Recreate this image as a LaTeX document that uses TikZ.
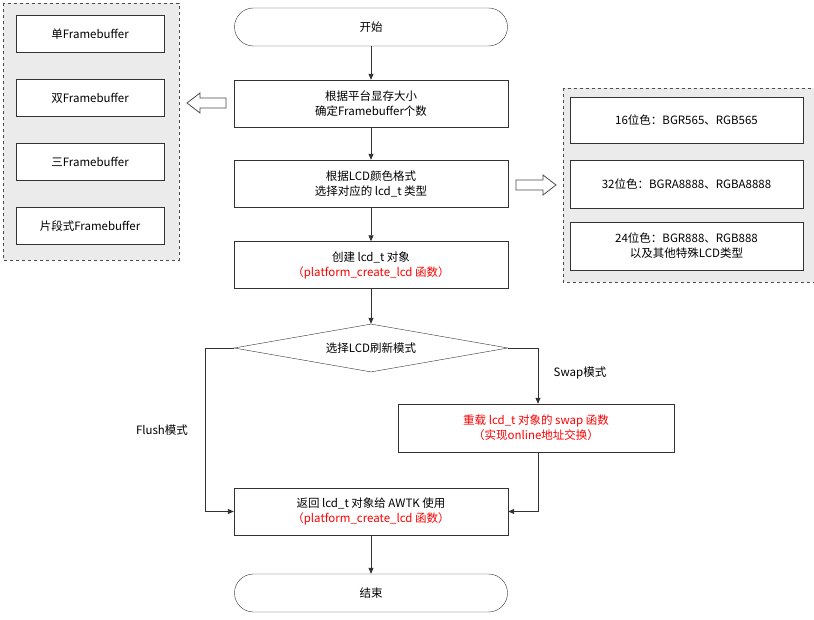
\documentclass[tikz,border=0pt]{standalone}
\usepackage{fontspec}
\setmainfont{Noto Sans CJK SC}
\usetikzlibrary{shapes.geometric,arrows.meta}
\definecolor{grp}{HTML}{EBEBEB}
\definecolor{red1}{HTML}{FF0000}
\begin{document}
\begin{tikzpicture}[x=1pt,y=-1pt,font=\fontsize{11.5}{15}\selectfont,
 box/.style={draw=black!80,fill=white,minimum width=274pt,minimum height=47pt,align=center,inner sep=1pt},
 term/.style={draw=black!80,fill=white,rounded corners=19pt,minimum width=273pt,minimum height=38pt},
 sbox/.style={draw=black!80,fill=white,minimum width=148pt,minimum height=37pt},
 rbox/.style={draw=black!80,fill=white,minimum width=233pt,minimum height=46pt,align=center},
 grpst/.style={draw=black!70,dashed,fill=grp,line width=0.8pt},
 ar/.style={-{Triangle[length=6pt,width=5pt]},black!80,line width=0.8pt},
 hol/.style={draw=black!70,fill=white,line width=0.8pt}]
\useasboundingbox (0,0) rectangle (814,620);
\filldraw[grpst] (3,3) rectangle (179,260);
\filldraw[grpst] (563,88) rectangle (814,282);
\node[sbox] (l1) at (90,34) {单Framebuffer};
\node[sbox] (l2) at (90,98) {双Framebuffer};
\node[sbox] (l3) at (90,162) {三Framebuffer};
\node[sbox] (l4) at (90,226) {片段式Framebuffer};
\node[rbox] (r1) at (686.5,120) {16位色：BGR565、RGB565};
\node[rbox,minimum height=48pt] (r2) at (686.5,184) {32位色：BGRA8888、RGBA8888};
\node[rbox,minimum height=48pt] (r3) at (686.5,246) {24位色：BGR888、RGB888\\以及其他特殊LCD类型};
\node[term] (s) at (371,27) {开始};
\node[box] (b1) at (371,103.5) {根据平台显存大小\\确定Framebuffer个数};
\node[box] (b2) at (371,183.5) {根据LCD颜色格式\\选择对应的 lcd\_t 类型};
\node[box] (b3) at (371,265) {创建 lcd\_t 对象\\\textcolor{red1}{（platform\_create\_lcd 函数）}};
\node[diamond,draw=black!80,fill=white,minimum width=274pt,minimum height=48pt,aspect=5.7,inner sep=0pt] (d) at (371,348) {选择LCD刷新模式};
\node[box,minimum width=276pt,minimum height=48pt,text=red1] (sw) at (536,428) {重载 lcd\_t 对象的 swap 函数\\（实现online地址交换）};
\node[box] (rt) at (371,511.5) {返回 lcd\_t 对象给 AWTK 使用\\\textcolor{red1}{（platform\_create\_lcd 函数）}};
\node[term] (e) at (371,593) {结束};
\draw[hol] (187,103) -- (200,93) -- (200,98) -- (226,98) -- (226,108) -- (200,108) -- (200,113) -- cycle;
\draw[hol] (556,185) -- (543,175) -- (543,180) -- (516,180) -- (516,190) -- (543,190) -- (543,195) -- cycle;
\draw[ar] (s) -- (b1);
\draw[ar] (b1) -- (b2);
\draw[ar] (b2) -- (b3);
\draw[ar] (b3) -- (d);
\draw[ar] (rt) -- (e);
\coordinate (fl) at (205,348);
\coordinate (fr) at (538,348);
\draw[ar] (d.west) -- (fl) |- (rt.west);
\draw[ar] (d.east) -- (fr) -- (fr |- sw.north);
\draw[ar] (fr |- sw.south) |- (rt.east);
\node (lf) at (162,430) {Flush模式};
\node (ls) at (580,373) {Swap模式};
\end{tikzpicture}
\end{document}
